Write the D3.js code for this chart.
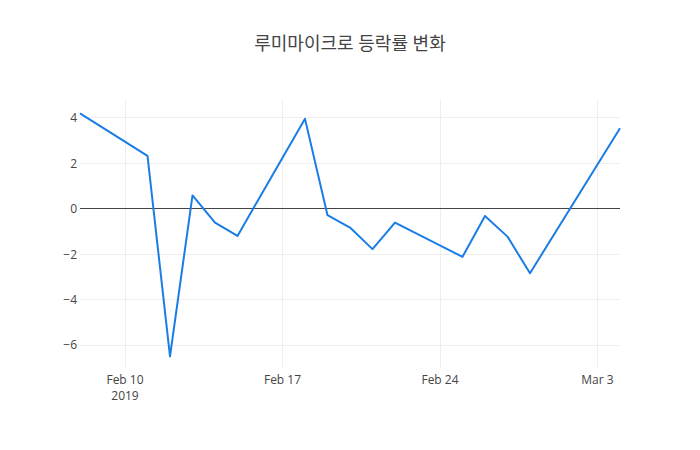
<!DOCTYPE html>
<html>
  <head>
    <meta charset="UTF-8">
    <title>루미마이크로 등락률 변화</title>
    <script src="https://d3js.org/d3.v7.min.js" charset="utf-8"></script>
    <style>
      body { margin: 0; background: #fff; }
    </style>
  </head>
  <body>
    <script>
        var w = 700;
        var h = 450;

        // trading days and daily change (%)
        var dates = ["2019-02-08", "2019-02-11", "2019-02-12", "2019-02-13", "2019-02-14",
                     "2019-02-15", "2019-02-18", "2019-02-19", "2019-02-20", "2019-02-21",
                     "2019-02-22", "2019-02-25", "2019-02-26", "2019-02-27", "2019-02-28",
                     "2019-03-04"];
        var changes = [4.2, 2.33, -6.49, 0.59, -0.6,
                       -1.19, 3.96, -0.28, -0.82, -1.77,
                       -0.6, -2.11, -0.31, -1.22, -2.83,
                       3.55];
        var yTicks = [-6, -4, -2, 0, 2, 4];
        var xTicks = ["2019-02-10", "2019-02-17", "2019-02-24", "2019-03-03"];
        var xTickLabels = ["Feb 10", "Feb 17", "Feb 24", "Mar 3"];

        var parse = d3.timeParse("%Y-%m-%d");
        var data = dates.map(function(d, i){ return {date: parse(d), value: changes[i]}; });

        var margin = {top: 100, right: 80, bottom: 82, left: 80};
        var pw = w - margin.left - margin.right;
        var ph = h - margin.top - margin.bottom;

        var svg = d3.select("body").append("svg")
            .attr("width", w)
            .attr("height", h)
            .style("font-family", "'Open Sans', 'Noto Sans CJK KR', sans-serif");

        var x = d3.scaleTime()
            .domain(d3.extent(data, function(d){ return d.date; }))
            .range([0, pw]);
        var y = d3.scaleLinear()
            .domain([-7.0, 4.79])
            .range([ph, 0]);

        var g = svg.append("g")
            .attr("transform", "translate(" + margin.left + "," + margin.top + ")");

        // grid
        g.selectAll("line.ygrid")
            .data(yTicks.filter(function(t){ return t !== 0; }))
            .enter().append("line")
            .attr("class", "ygrid")
            .attr("x1", 0).attr("x2", pw)
            .attr("y1", function(d){ return y(d); })
            .attr("y2", function(d){ return y(d); })
            .attr("stroke", "#eeeeee").attr("stroke-width", 1)
            .attr("shape-rendering", "crispEdges");

        g.selectAll("line.xgrid")
            .data(xTicks)
            .enter().append("line")
            .attr("class", "xgrid")
            .attr("x1", function(d){ return x(parse(d)); })
            .attr("x2", function(d){ return x(parse(d)); })
            .attr("y1", 0).attr("y2", ph)
            .attr("stroke", "#eeeeee").attr("stroke-width", 1)
            .attr("shape-rendering", "crispEdges");

        // zero line
        g.append("line")
            .attr("x1", 0).attr("x2", pw)
            .attr("y1", y(0)).attr("y2", y(0))
            .attr("stroke", "#444444").attr("stroke-width", 1)
            .attr("shape-rendering", "crispEdges");

        // y tick labels
        g.selectAll("text.ytick")
            .data(yTicks)
            .enter().append("text")
            .attr("class", "ytick")
            .attr("x", -3)
            .attr("y", function(d){ return y(d); })
            .attr("dy", "0.35em")
            .attr("text-anchor", "end")
            .attr("font-size", "12px")
            .attr("fill", "#444444")
            .text(function(d){ return d < 0 ? "\u2212" + Math.abs(d) : d; });

        // x tick labels
        g.selectAll("text.xtick")
            .data(xTicks)
            .enter().append("text")
            .attr("class", "xtick")
            .attr("x", function(d){ return x(parse(d)); })
            .attr("y", ph + 16)
            .attr("text-anchor", "middle")
            .attr("font-size", "12px")
            .attr("fill", "#444444")
            .text(function(d, i){ return xTickLabels[i]; });

        g.append("text")
            .attr("x", x(parse(xTicks[0])))
            .attr("y", ph + 32)
            .attr("text-anchor", "middle")
            .attr("font-size", "12px")
            .attr("fill", "#444444")
            .text("2019");

        // line
        var line = d3.line()
            .x(function(d){ return x(d.date); })
            .y(function(d){ return y(d.value); });

        g.append("path")
            .datum(data)
            .attr("d", line)
            .attr("fill", "none")
            .attr("stroke", "#1a7de6")
            .attr("stroke-width", 2)
            .attr("stroke-linejoin", "round");

        // title
        svg.append("text")
            .attr("x", w / 2)
            .attr("y", 50)
            .attr("text-anchor", "middle")
            .attr("font-size", "18px")
            .attr("fill", "#444444")
            .text("루미마이크로 등락률 변화");
    </script>
  </body>
</html>
